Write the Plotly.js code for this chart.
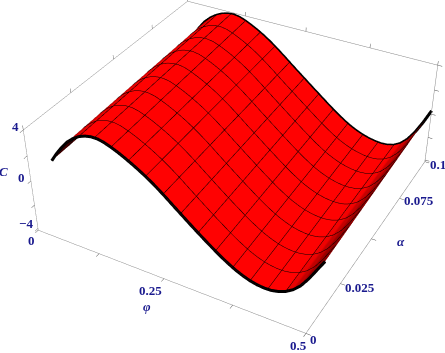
<!DOCTYPE html>
<html><head><meta charset="utf-8">
<script src="https://cdn.plot.ly/plotly-3.0.1.min.js"></script>
<style>html,body{margin:0;padding:0;background:#fff;overflow:hidden;width:445px;height:353px}#p{position:absolute;left:-315px;top:-250px;width:1075px;height:853px}</style>
</head><body><div id="p"></div>
<script>
const phi=[0,0.0125,0.025,0.0375,0.05,0.0625,0.075,0.0875,0.1,0.1125,0.125,0.1375,0.15,0.1625,0.175,0.1875,0.2,0.2125,0.225,0.2375,0.25,0.2625,0.275,0.2875,0.3,0.3125,0.325,0.3375,0.35,0.3625,0.375,0.3875,0.4,0.4125,0.425,0.4375,0.45,0.4625,0.475,0.4875,0.5];
const alpha=[0.0113,0.055,0.1];
const Cnear=[0.19,0.95,1.62,2.2,2.63,2.96,3.17,3.28,3.28,3.17,2.98,2.76,2.5,2.22,1.92,1.59,1.23,0.84,0.42,-0.02,-0.45,-0.88,-1.3,-1.71,-2.11,-2.5,-2.87,-3.2,-3.5,-3.74,-3.93,-4.05,-4.1,-4.08,-3.95,-3.72,-3.35,-2.8,-2.02,-1.1,-0.18];
const Cmid=[0.32,1.1,1.81,2.41,2.86,3.19,3.42,3.54,3.56,3.47,3.28,3.05,2.79,2.5,2.19,1.84,1.46,1.06,0.64,0.21,-0.2,-0.62,-1.03,-1.44,-1.84,-2.23,-2.6,-2.94,-3.24,-3.48,-3.68,-3.81,-3.89,-3.9,-3.82,-3.62,-3.28,-2.72,-1.93,-0.97,0.05];
const Cfar=[0.45,1.25,2.0,2.62,3.08,3.42,3.66,3.8,3.84,3.76,3.58,3.34,3.08,2.78,2.45,2.08,1.68,1.27,0.85,0.44,0.04,-0.37,-0.77,-1.17,-1.57,-1.96,-2.33,-2.67,-2.97,-3.22,-3.42,-3.57,-3.67,-3.72,-3.68,-3.52,-3.2,-2.65,-1.85,-0.85,0.29];
const C=[Cnear,Cmid,Cfar];
const flat=C.map(r=>r.map(()=>1));
const zTicks=[-4,-2,0,2,4], phiTicks=[0,0.125,0.25,0.375,0.5], alphaTicks=[0,0.025,0.05,0.075,0.1];
const zBase=-4.15;
const edge=(xs,ys,zs)=>({type:'scatter3d',mode:'lines',x:xs,y:ys,z:zs,line:{color:'#000',width:6},showlegend:false,hoverinfo:'skip'});
const navy='#1a1a8e';
const lab=(t,x,y,z,xs,ys)=>({text:t,x,y,z,xshift:xs,yshift:ys,showarrow:false,xanchor:'center',yanchor:'middle',font:{family:'Liberation Serif',size:13,color:navy}});
const ax=(range,vals)=>({title:{text:''},range,tickmode:'array',tickvals:vals,showticklabels:false,showgrid:false,zeroline:false,showbackground:false,showspikes:false,showline:true,mirror:'all',linecolor:'#888',linewidth:1,ticks:'inside',ticklen:4,tickcolor:'#555'});
Plotly.newPlot('p',[
{type:'surface',x:phi,y:alpha,z:C,surfacecolor:flat,cmin:0,cmax:1,colorscale:[[0,'#ff0000'],[1,'#ff0000']],showscale:false,
 lighting:{ambient:0.24,diffuse:1,specular:0.02,roughness:0.9,fresnel:0},lightposition:{x:5000,y:-800,z:1100},
 contours:{x:{show:true,start:0.03125,end:0.46875,size:0.03125,color:'#000',width:4},y:{show:true,start:0.02116,end:0.091,size:0.00986,color:'#000',width:4},z:{show:false}},hoverinfo:'skip'},
edge(phi,phi.map(()=>alpha[0]),Cnear),edge(phi,phi.map(()=>alpha[2]),Cfar)
],{margin:{l:0,r:0,t:0,b:0},paper_bgcolor:'#fff',showlegend:false,
scene:{domain:{x:[0,1],y:[0,1]},aspectmode:'manual',aspectratio:{x:1,y:1,z:0.4075},
 camera:{eye:{x:1.377,y:-2.518,z:2.008},center:{x:-0.0204,y:-0.083,z:-0.078},up:{x:-0.292,y:0.531,z:0.802},projection:{type:'perspective'}},
 xaxis:ax([0,0.5],phiTicks),yaxis:ax([0,0.1],alphaTicks),zaxis:ax([zBase,4],zTicks),
 annotations:[
  lab('<b>0</b>',0,0,zBase,-7,-10),
  lab('<b>−4</b>',0,0,-4,-12,5),
  lab('<b>0</b>',0,0,0,-9,3.5),
  lab('<b>4</b>',0,0,4,-8,3),
  lab('<b><i>C</i></b>',0,0,0,-27,9.5),
  lab('<b>0.25</b>',0.25,0,zBase,-13,-12),
  lab('<b><i>φ</i></b>',0.25,0,zBase,-17,-28),
  lab('<b>0.5</b>',0.5,0,zBase,-7,-12),
  lab('<b>0</b>',0.5,0,zBase,8,-6),
  lab('<b>0.025</b>',0.5,0.025,zBase,20,-4),
  lab('<b><i>α</i></b>',0.5,0.05,zBase,30,-3),
  lab('<b>0.075</b>',0.5,0.075,zBase,20,-2),
  lab('<b>0.1</b>',0.5,0.1,zBase,13,-3)
 ]}
},{displayModeBar:false});
</script></body></html>
